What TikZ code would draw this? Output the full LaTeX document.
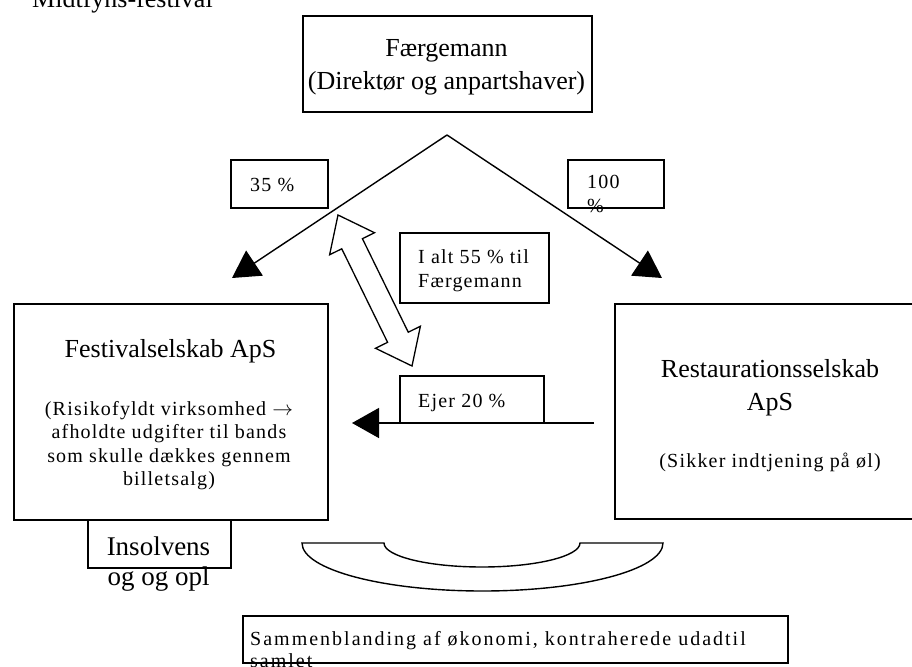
\documentclass[tikz,border=0pt]{standalone}
\usepackage{fontspec}
\setmainfont{Liberation Serif}
\newfontfamily\tightserif{Liberation Serif}[LetterSpace=6]
\newfontfamily\wideserif{Liberation Serif}[LetterSpace=10]
\usepackage{tikz}
\usetikzlibrary{arrows.meta, calc, positioning}
\tikzset{
  framebox/.style 2 args={
    draw, line width=1.7pt, inner sep=0pt, anchor=north west,
    minimum width=#1, minimum height=#2
  },
  headtext/.style={
    font=\fontsize{26pt}{33pt}\selectfont, align=center,
    inner sep=0pt, anchor=base
  },
  notetext/.style={
    font=\tightserif\fontsize{20pt}{23.5pt}\selectfont, align=center,
    inner sep=0pt, anchor=base
  },
  tagtext/.style={
    font=\tightserif\fontsize{20pt}{24pt}\selectfont, align=left,
    inner sep=0pt, anchor=base west
  },
  sharearrow/.style={
    line width=1.4pt, -{Triangle[length=27pt, width=30pt]}
  },
}

\begin{document}
\begin{tikzpicture}[x=1pt, y=-1pt]
  \path[use as bounding box, fill=white] (0,0) rectangle (912,666);

  % ── Heading ────────────────────────────────────────────────────
  \node[headtext, anchor=base west] (heading) at (32,8) {Midtfyns-festival};

  % ── Owner ──────────────────────────────────────────────────────
  % (multi-line texts sit on the baseline of their last line)
  \node[framebox={289pt}{96pt}] (owner) at (302,15) {};
  \node[headtext] (ownertxt) at (446.5,90)
    {Færgemann\\(Direktør og anpartshaver)};

  % ── Shares ─────────────────────────────────────────────────────
  \coordinate (apex) at (447,135);
  \coordinate (leftend) at (232,278);
  \coordinate (rightend) at (662,278);
  \draw[sharearrow] (apex) -- (leftend);
  \draw[sharearrow] (apex) -- (rightend);

  \node[framebox={97pt}{48pt}] (share35) at (230,159) {};
  \node[tagtext] (share35txt) at (250,191) {35 \%};
  \node[framebox={96pt}{48pt}] (share100) at (567,159) {};
  \node[tagtext] (share100txt) at (587,212) {100\\\%};
  \node[framebox={149pt}{70pt}] (total) at (399,232) {};
  \node[tagtext] (totaltxt) at (418,287) {I alt 55 \% til\\Færgemann};

  % Double arrow between the shares
  \coordinate (dtop) at (338,215);
  \coordinate (dbot) at (412,366);
  \path ($(dtop)!32pt!(dbot)$) coordinate (hup)
        ($(dbot)!32pt!(dtop)$) coordinate (hdown);
  \filldraw[fill=white, line width=1.3pt, line join=miter]
    (dtop) -- ($(hup)!25pt!90:(dbot)$) -- ($(hup)!11.5pt!90:(dbot)$)
    -- ($(hdown)!11.5pt!-90:(dtop)$) -- ($(hdown)!25pt!-90:(dtop)$)
    -- (dbot) -- ($(hdown)!25pt!90:(dtop)$) -- ($(hdown)!11.5pt!90:(dtop)$)
    -- ($(hup)!11.5pt!-90:(dbot)$) -- ($(hup)!25pt!-90:(dbot)$) -- cycle;

  % ── Companies ──────────────────────────────────────────────────
  \node[framebox={314pt}{216pt}] (festival) at (13,303) {};
  \node[headtext] (festivalname) at (170.5,357) {Festivalselskab ApS};
  \node[notetext] (festivalnote) at (169,485.5)
    {(Risikofyldt virksomhed $\rightarrow$\\afholdte udgifter til bands\\som skulle dækkes gennem\\billetsalg)};

  \node[framebox={312pt}{215pt}] (restaurant) at (614,303) {};
  \node[headtext] (restaurantname) at (770,410) {Restaurationsselskab\\ApS};
  \node[notetext] (restaurantnote) at (770,467) {(Sikker indtjening på øl)};

  % Ejer 20 %
  \node[framebox={144pt}{47pt}] (own20) at (399,375) {};
  \node[tagtext] (own20txt) at (418,407) {Ejer 20 \%};
  \coordinate (linkfrom) at (594,423);
  \coordinate (linkto) at (352,423);
  \draw[sharearrow] (linkfrom) -- (linkto);

  % ── Insolvens ──────────────────────────────────────────────────
  \node[framebox={143pt}{48pt}] (insolv) at (87,519) {};
  \node[headtext, font=\fontsize{27pt}{30pt}\selectfont] (insolvtxt)
    at (158.5,585) {Insolvens\\og og opl};

  % ── Bowl ───────────────────────────────────────────────────────
  \draw[line width=1.4pt]
    (302,543) -- (384,543)
    arc[start angle=180, end angle=0, x radius=98, y radius=24]
    -- (663,543)
    arc[start angle=0, end angle=180, x radius=180.5, y radius=48] -- cycle;

  % ── Sammenblanding ─────────────────────────────────────────────
  \node[tagtext, font=\wideserif\fontsize{20pt}{22pt}\selectfont] (mixtxt)
    at (250,667) {Sammenblanding af økonomi, kontraherede udadtil\\samlet};
  \node[framebox={545pt}{47pt}] (mix) at (242,615) {};
\end{tikzpicture}
\end{document}
